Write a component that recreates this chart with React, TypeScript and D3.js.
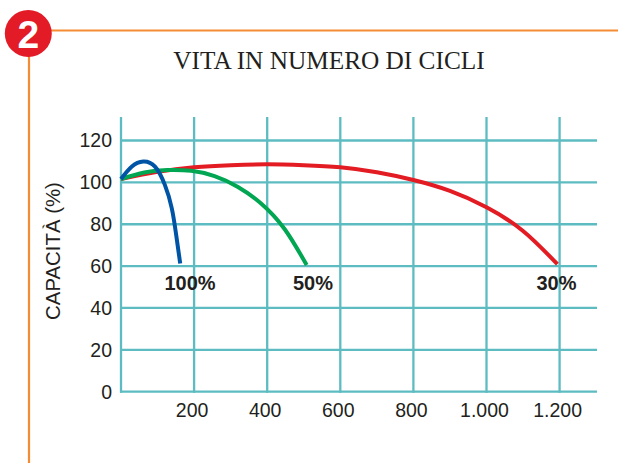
import React from "react";
import * as d3 from "d3";

const title = "VITA IN NUMERO DI CICLI";
const yAxisLabel = "CAPACITÀ (%)";
const xTicks = [200, 400, 600, 800, 1000, 1200];
const xTickLabels = ["200", "400", "600", "800", "1.000", "1.200"];
const yTicks = [0, 20, 40, 60, 80, 100, 120];

const blueX = [0, 29, 61, 93, 120, 139, 151, 162];
const blueY = [101.6, 107.5, 110, 107.5, 98.8, 87.6, 74.9, 61.2];
const greenX = [0, 64, 128, 192, 256, 320, 384, 448, 508];
const greenY = [101.6, 104.7, 105.9, 105.5, 103, 97.8, 89.8, 77.6, 60.5];
const redX = [0, 100, 200, 300, 400, 500, 600, 700, 800, 900, 1000, 1100, 1194];
const redY = [101.6, 105, 107.2, 108.2, 108.6, 108.2, 107.2, 104.8, 101.1, 95.9, 88.1, 76.8, 60.9];

const seriesNames = ["30%", "50%", "100%"];
const seriesColors = ["#e31b23", "#00a651", "#0054a6"];

const x = d3.scaleLinear().domain([0, 1200]).range([121, 559.6]);
const y = d3.scaleLinear().domain([0, 120]).range([391.7, 140.5]);
const line = d3
  .line<[number, number]>()
  .x((d) => x(d[0]))
  .y((d) => y(d[1]))
  .curve(d3.curveNatural);

const zip = (a: number[], b: number[]) => a.map((v, i) => [v, b[i]] as [number, number]);
const curves = [zip(redX, redY), zip(greenX, greenY), zip(blueX, blueY)];

const sans = "'Liberation Sans', Arial, sans-serif";
const grid = "#5cbcc1";
const orange = "#f58b33";
const ink = "#231f20";

export default function App() {
  return (
    <svg
      width={618}
      height={463}
      viewBox="0 0 618 463"
      style={{ position: "absolute", left: 0, top: 0, background: "#fff" }}
    >
      <line x1={50} x2={618} y1={30.5} y2={30.5} stroke={orange} strokeWidth={2.2} />
      <line x1={29} x2={29} y1={55} y2={463} stroke={orange} strokeWidth={2.2} />
      <circle cx={28.3} cy={33.5} r={23.5} fill="#e21b26" />
      <text x={28.3} y={47.5} textAnchor="middle" fontFamily={sans} fontWeight="bold" fontSize={39} fill="#fff">
        2
      </text>
      <text x={329} y={69} textAnchor="middle" fontFamily="'Liberation Serif', serif" fontSize={25.3} fill={ink}>
        {title}
      </text>

      {yTicks.map((t) => (
        <g key={t}>
          <line x1={120} x2={597} y1={y(t)} y2={y(t)} stroke={grid} strokeWidth={t === 120 ? 2.6 : 2.3} />
          <text x={112} y={y(t) + 6.9} textAnchor="end" fontFamily={sans} fontSize={19.5} fill={ink}>
            {t}
          </text>
        </g>
      ))}
      <line x1={x(0)} x2={x(0)} y1={117} y2={392.7} stroke={grid} strokeWidth={2.3} />
      {xTicks.map((t, i) => (
        <g key={t}>
          <line x1={x(t)} x2={x(t)} y1={117} y2={392.7} stroke={grid} strokeWidth={2.3} />
          <text x={x(t) - 2} y={417} textAnchor="middle" fontFamily={sans} fontSize={19.5} fill={ink}>
            {xTickLabels[i]}
          </text>
        </g>
      ))}
      <text
        transform="translate(59.5,251) rotate(-90)"
        textAnchor="middle"
        fontFamily={sans}
        fontSize={20.4}
        fill={ink}
      >
        {yAxisLabel}
      </text>

      {curves.map((c, i) => (
        <path key={seriesNames[i]} d={line(c) ?? ""} fill="none" stroke={seriesColors[i]} strokeWidth={4} />
      ))}

      <text x={190} y={290} textAnchor="middle" fontFamily={sans} fontWeight="bold" fontSize={20} fill={ink}>
        {seriesNames[2]}
      </text>
      <text x={313} y={290} textAnchor="middle" fontFamily={sans} fontWeight="bold" fontSize={20} fill={ink}>
        {seriesNames[1]}
      </text>
      <text x={556.5} y={290} textAnchor="middle" fontFamily={sans} fontWeight="bold" fontSize={20} fill={ink}>
        {seriesNames[0]}
      </text>
    </svg>
  );
}
